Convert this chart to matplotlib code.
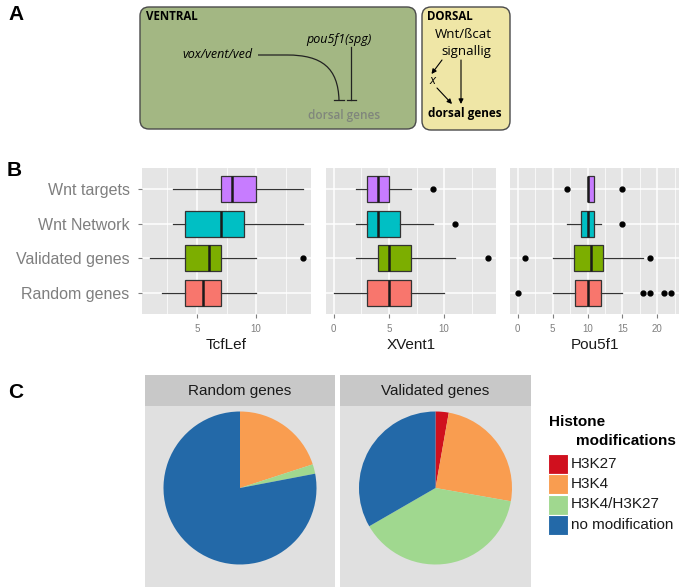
import numpy as np
import matplotlib
matplotlib.use("Agg")
import matplotlib.pyplot as plt
from matplotlib.patches import FancyBboxPatch, Rectangle, PathPatch
from matplotlib.path import Path

plt.rcParams['font.family'] = ['Liberation Sans', 'DejaVu Sans']

# ---- panel B data ----
cats = ["Random genes", "Validated genes", "Wnt Network", "Wnt targets"]
box_colors = ["#F8766D", "#7CAE00", "#00BFC4", "#C77CFF"]
genes = ["TcfLef", "XVent1", "Pou5f1"]

tcf_whislo = [2, 1, 3, 3]
tcf_q1 = [4, 4, 4, 7]
tcf_med = [5.5, 6, 7, 8]
tcf_q3 = [7, 7, 9, 10]
tcf_whishi = [10, 10, 14, 14]
tcf_fliers = [[], [14], [], []]

xv_whislo = [0, 2, 2, 2]
xv_q1 = [3, 4, 3, 3]
xv_med = [5, 5, 4, 4]
xv_q3 = [7, 7, 6, 5]
xv_whishi = [10, 11, 9, 7]
xv_fliers = [[], [14], [11], [9]]

pou_whislo = [5, 5, 7, 10]
pou_q1 = [8.25, 8, 9, 10]
pou_med = [10, 10.5, 10, 10]
pou_q3 = [12, 12.25, 11, 11]
pou_whishi = [15, 18, 12, 11]
pou_fliers = [[0, 18, 19, 21, 22], [1, 19], [15], [7, 15]]

# ---- panel C data ----
mods = ["H3K27", "H3K4", "H3K4/H3K27", "no modification"]
mod_colors = ["#D0101E", "#F99D50", "#A0D88F", "#2369A8"]
random_counts = [0, 10, 1, 39]
validated_counts = [1, 9, 14, 12]

W, H = 683, 587
fig = plt.figure(figsize=(W / 100, H / 100), dpi=100)


def ax_px(x0, y0, x1, y1):
    return fig.add_axes([x0 / W, 1 - y1 / H, (x1 - x0) / W, (y1 - y0) / H])


# overlay in pixel coords for panel A, letters and legend
ov = ax_px(0, 0, W, H)
ov.set_xlim(0, W)
ov.set_ylim(H, 0)
ov.axis("off")

for lab, (x, y) in zip("ABC", [(16, 15), (14, 170), (16, 392)]):
    ov.text(x, y, lab, fontsize=15, fontweight="bold", ha="center", va="center")

# ---- panel A ----
afont = ['Open Sans', 'DejaVu Sans']
ov.add_patch(FancyBboxPatch((140, 7), 276, 122, boxstyle="round,pad=0,rounding_size=9",
                            fc="#A3B783", ec="#4a4a4a", lw=1))
ov.add_patch(FancyBboxPatch((422, 7), 88, 123, boxstyle="round,pad=0,rounding_size=9",
                            fc="#EFE6A6", ec="#4a4a4a", lw=1))
ov.text(146, 17, "VENTRAL", family=afont, fontsize=8.3, fontweight="bold", va="center")
ov.text(427, 17, "DORSAL", family=afont, fontsize=8.3, fontweight="bold", va="center")
ov.text(253, 54, "vox/vent/ved", family=afont, fontsize=9, style="italic", ha="right", va="center")
ov.text(339, 40, "pou5f1(spg)", family=afont, fontsize=9, style="italic", ha="center", va="center")
ov.text(344, 115, "dorsal genes", family=afont, fontsize=8.5, fontweight="semibold",
        color="#80867C", ha="center", va="center")

curve = Path([(258, 55), (287, 55), (322, 55), (338, 68), (339, 100)],
             [Path.MOVETO, Path.LINETO, Path.CURVE4, Path.CURVE4, Path.CURVE4])
ov.add_patch(PathPatch(curve, fc="none", ec="#222222", lw=0.9))
ov.plot([334, 344], [100, 100], color="#222222", lw=0.9)
ov.plot([351, 351], [47, 100], color="#222222", lw=0.9)
ov.plot([346.5, 355.5], [100, 100], color="#222222", lw=0.9)

ov.text(463, 35, "Wnt/ßcat", family=afont, fontsize=9.5, ha="center", va="center")
ov.text(466, 52, "signallig", family=afont, fontsize=9.5, ha="center", va="center")
ov.text(432, 81, "x", family=afont, fontsize=9, style="italic", ha="center", va="center")
ov.text(465, 114, "dorsal genes", family=afont, fontsize=8.5, fontweight="bold",
        ha="center", va="center")
arr = dict(arrowstyle="-|>", color="black", lw=0.8, mutation_scale=7, shrinkA=0, shrinkB=0)
ov.annotate("", xy=(431.5, 74), xytext=(442, 60), arrowprops=arr)
ov.annotate("", xy=(452, 104), xytext=(437, 88), arrowprops=arr)
ov.annotate("", xy=(461, 104), xytext=(461, 60), arrowprops=arr)

# ---- panel B ----
panels = [
    (142, 311, (0.35, 14.65), [5, 10], [2.5, 7.5, 12.5],
     tcf_whislo, tcf_q1, tcf_med, tcf_q3, tcf_whishi, tcf_fliers),
    (326, 496, (-0.7, 14.7), [0, 5, 10], [2.5, 7.5, 12.5],
     xv_whislo, xv_q1, xv_med, xv_q3, xv_whishi, xv_fliers),
    (510, 679, (-1.1, 23.1), [0, 5, 10, 15, 20], [2.5, 7.5, 12.5, 17.5, 22.5],
     pou_whislo, pou_q1, pou_med, pou_q3, pou_whishi, pou_fliers),
]

for i, (x0, x1, xlim, maj, mnr, wlo, q1, med, q3, whi, fl) in enumerate(panels):
    ax = ax_px(x0, 168, x1, 314)
    ax.set_facecolor("#E5E5E5")
    stats = []
    for k in range(len(cats)):
        stats.append(dict(whislo=wlo[k], q1=q1[k], med=med[k], q3=q3[k],
                          whishi=whi[k], fliers=fl[k]))
    bp = ax.bxp(stats, positions=np.arange(1, 5), widths=0.75, orientation="horizontal",
                patch_artist=True, showcaps=False,
                boxprops=dict(ec="#333333", lw=0.9),
                medianprops=dict(color="#1a1a1a", lw=1.8),
                whiskerprops=dict(color="#333333", lw=0.9),
                flierprops=dict(marker="o", mfc="black", mec="black", ms=3.5))
    for patch, c in zip(bp["boxes"], box_colors):
        patch.set_facecolor(c)
    ax.set_xlim(*xlim)
    ax.set_ylim(0.4, 4.6)
    ax.set_xticks(maj)
    ax.set_xticks(mnr, minor=True)
    ax.set_yticks(np.arange(1, 5))
    ax.grid(True, which="major", color="white", lw=1.1)
    ax.grid(True, which="minor", axis="x", color="white", lw=0.5)
    ax.set_axisbelow(True)
    for s in ax.spines.values():
        s.set_visible(False)
    ax.tick_params(axis="x", which="major", colors="#7F7F7F", labelsize=7, length=3, pad=4)
    ax.tick_params(axis="x", which="minor", length=0)
    if i == 0:
        ax.set_yticklabels(cats)
        ax.tick_params(axis="y", colors="#7F7F7F", labelsize=11.5, length=3, pad=6)
    else:
        ax.set_yticklabels([])
        ax.tick_params(axis="y", length=0)
    ax.set_xlabel(genes[i], fontsize=11, color="#1a1a1a", labelpad=3)

# ---- panel C ----
pie_panels = [(145, 335, "Random genes", random_counts),
              (340, 531, "Validated genes", validated_counts)]
r_px = 76.5
cy = 488
for x0, x1, title, counts in pie_panels:
    st = ax_px(x0, 375, x1, 406)
    st.set_facecolor("#C8C8C8")
    st.set_xticks([])
    st.set_yticks([])
    for s in st.spines.values():
        s.set_visible(False)
    st.text(0.5, 0.5, title, ha="center", va="center", fontsize=11, color="#1a1a1a",
            transform=st.transAxes)

    ax = ax_px(x0, 406, x1, H)
    ax.pie(counts, colors=mod_colors, startangle=90, counterclock=False,
           wedgeprops=dict(lw=0))
    ax.set_frame_on(True)
    ax.set_facecolor("#E0E0E0")
    hw = (x1 - x0) / 2 / r_px
    ax.set_aspect("auto")
    ax.set_xlim(-hw, hw)
    ax.set_ylim(-(H - cy) / r_px, (cy - 406) / r_px)
    ax.set_xticks([])
    ax.set_yticks([])
    for s in ax.spines.values():
        s.set_visible(False)

# legend
ov.text(549, 422, "Histone", fontsize=11, fontweight="bold", va="center")
ov.text(576, 441, "modifications", fontsize=11, fontweight="bold", va="center")
for k, (lab, c) in enumerate(zip(mods, mod_colors)):
    y0 = 453.5 + k * 20.5
    ov.add_patch(Rectangle((548, y0), 20, 20, fc=c, ec="white", lw=0.8))
    ov.text(571, y0 + 10, lab, fontsize=11, va="center", color="#1a1a1a")

fig.savefig("out.png", dpi=100)
